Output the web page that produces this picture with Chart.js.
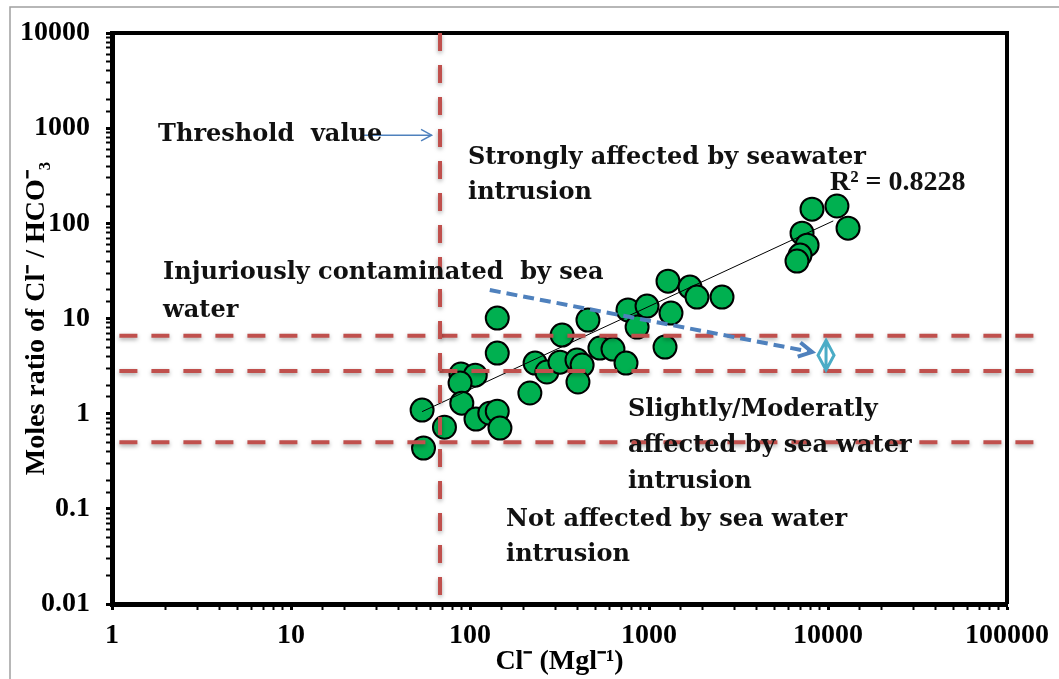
<!DOCTYPE html>
<html>
<head>
  <meta charset="utf-8">
  <title>Cl / HCO3 ratio vs Cl</title>
  <script src="https://cdn.jsdelivr.net/npm/chart.js"></script>
  <style>
    body { margin: 0; background: #fff; }
    #box { width: 1059px; height: 679px; }
  </style>
</head>
<body>
  <div id="box"><canvas id="chart"></canvas></div>

  <script>
    // samples: Cl- (mg/l) against Cl-/HCO3- molar ratio
    const clValues = [54, 55, 72, 89, 107, 88, 90, 108, 129, 142,
                      147, 142, 142, 216, 231, 269, 327, 318, 396, 423,
                      401, 456, 532, 629, 744, 763, 858, 975, 1229, 1277,
                      1327, 1694, 1854, 2558, 8140, 11220, 12940, 7160, 7640, 6980,
                      6710];
    const ratioValues = [1.09, 0.435, 0.72, 2.61, 2.54, 2.10, 1.29, 0.877, 1.01, 1.06,
                         0.706, 10.1, 4.33, 1.65, 3.40, 2.74, 6.70, 3.48, 3.66, 3.24,
                         2.15, 9.62, 4.89, 4.77, 3.40, 12.3, 8.13, 13.5, 5.01, 24.7,
                         11.4, 21.4, 16.8, 16.8, 141, 152, 89, 78.9, 59, 46.4,
                         40.1];

    // power trendline ends
    const trendCl = [54, 10700];
    const trendRatio = [1.05, 106];
    const r2Text = 'R² = 0.8228';

    // class boundaries
    const thresholdCl = 68;
    const classBounds = [6.6, 2.8, 0.5];
    const markerCl = 9750;
    const markerRange = [2.87, 5.9];

    const xTickLabels = ['1', '10', '100', '1000', '10000', '100000'];
    const yTickLabels = ['0.01', '0.1', '1', '10', '100', '1000', '10000'];

    function decadeLabel(v, labels, minExp) {
      const e = Math.log10(v);
      if (Math.abs(e - Math.round(e)) > 1e-6) return '';
      return labels[Math.round(e) - minExp] || '';
    }
    function isMajor(v) {
      const e = Math.log10(v);
      return Math.abs(e - Math.round(e)) < 1e-6;
    }

    function arrowHead(ctx, x1, y1, x2, y2, len) {
      const a = Math.atan2(y2 - y1, x2 - x1);
      ctx.beginPath();
      ctx.moveTo(x2 - len * Math.cos(a - 0.5), y2 - len * Math.sin(a - 0.5));
      ctx.lineTo(x2, y2);
      ctx.lineTo(x2 - len * Math.cos(a + 0.5), y2 - len * Math.sin(a + 0.5));
      ctx.stroke();
    }

    const overlay = {
      id: 'overlay',
      beforeDraw(chart) {
        const ctx = chart.ctx;
        ctx.save();
        ctx.strokeStyle = '#a0a0a0';
        ctx.lineWidth = 1.5;
        ctx.strokeRect(10, 7, 1100, 700);
        ctx.restore();
      },
      afterDatasetsDraw(chart) {
        const { ctx, chartArea: a, scales: { x, y } } = chart;
        ctx.save();

        // top and right frame
        ctx.strokeStyle = '#000';
        ctx.lineWidth = 4;
        ctx.beginPath();
        ctx.moveTo(a.left, a.top);
        ctx.lineTo(a.right, a.top);
        ctx.lineTo(a.right, a.bottom);
        ctx.stroke();

        // red dashed class lines
        ctx.strokeStyle = '#C0504D';
        ctx.lineWidth = 4;
        ctx.setLineDash([18, 14]);
        ctx.shadowColor = 'rgba(0,0,0,0.35)';
        ctx.shadowBlur = 4;
        ctx.shadowOffsetY = 2;
        classBounds.forEach(v => {
          const py = y.getPixelForValue(v);
          ctx.beginPath();
          ctx.moveTo(x.getPixelForValue(1.1), py);
          ctx.lineTo(x.getPixelForValue(153000), py);
          ctx.stroke();
        });
        const tx = x.getPixelForValue(thresholdCl);
        ctx.beginPath();
        ctx.moveTo(tx, y.getPixelForValue(10000));
        ctx.lineTo(tx, y.getPixelForValue(0.0105));
        ctx.stroke();
        ctx.shadowColor = 'transparent';

        // blue arrows
        ctx.strokeStyle = '#4F81BD';
        ctx.lineWidth = 1.5;
        ctx.setLineDash([]);
        let x1 = x.getPixelForValue(25.2), y1 = y.getPixelForValue(844);
        let x2 = x.getPixelForValue(61), y2 = y1;
        ctx.beginPath(); ctx.moveTo(x1, y1); ctx.lineTo(x2, y2); ctx.stroke();
        arrowHead(ctx, x1, y1, x2, y2, 12);

        ctx.lineWidth = 4;
        ctx.setLineDash([11, 6]);
        x1 = x.getPixelForValue(129); y1 = y.getPixelForValue(19.9);
        x2 = x.getPixelForValue(8140); y2 = y.getPixelForValue(4.44);
        ctx.beginPath(); ctx.moveTo(x1, y1); ctx.lineTo(x2, y2); ctx.stroke();
        ctx.setLineDash([]);
        ctx.lineJoin = 'miter';
        arrowHead(ctx, x1, y1, x2, y2, 15);

        // cyan range marker
        const mx = x.getPixelForValue(markerCl);
        const mTop = y.getPixelForValue(markerRange[1]);
        const mBot = y.getPixelForValue(markerRange[0]);
        const mMid = (mTop + mBot) / 2;
        ctx.strokeStyle = '#4BACC6';
        ctx.lineWidth = 3;
        ctx.beginPath();
        ctx.moveTo(mx, mTop); ctx.lineTo(mx + 8, mMid); ctx.lineTo(mx, mBot); ctx.lineTo(mx - 8, mMid); ctx.closePath();
        ctx.moveTo(mx, mTop); ctx.lineTo(mx, mBot);
        ctx.stroke();

        // annotation texts
        ctx.fillStyle = '#111';
        ctx.textAlign = 'left';
        ctx.textBaseline = 'middle';
        ctx.font = 'bold 24px "DejaVu Serif"';
        const put = (t, cx, cy) => ctx.fillText(t, x.getPixelForValue(cx), y.getPixelForValue(cy));
        put('Threshold  value', 1.81, 844);
        put('Strongly affected by seawater', 97.5, 484);
        put('intrusion', 97.5, 207);
        put('Injuriously contaminated  by sea', 1.93, 30);
        put('water', 1.93, 12.2);
        put('Slightly/Moderatly', 763, 1.09);
        put('affected by sea water', 763, 0.457);
        put('intrusion', 763, 0.191);
        put('Not affected by sea water', 159, 0.0762);
        put('intrusion', 159, 0.0327);
        ctx.font = 'bold 28px "Liberation Serif"';
        put(r2Text, 10260, 264);

        ctx.restore();
      }
    };

    const tickFont = { family: '"Liberation Serif", "Times New Roman", serif', size: 28, weight: 'bold' };

    new Chart(document.getElementById('chart'), {
      type: 'scatter',
      data: {
        datasets: [
          {
            type: 'line',
            data: trendCl.map((v, i) => ({ x: v, y: trendRatio[i] })),
            borderColor: '#000',
            borderWidth: 1,
            pointRadius: 0,
            order: 0
          },
          {
            data: clValues.map((v, i) => ({ x: v, y: ratioValues[i] })),
            backgroundColor: '#00B050',
            borderColor: '#000',
            borderWidth: 2,
            pointRadius: 11.5,
            pointHoverRadius: 11.5,
            order: 1
          }
        ]
      },
      options: {
        responsive: true,
        maintainAspectRatio: false,
        animation: false,
        layout: { padding: { left: 0, top: 33, right: 52, bottom: 0 } },
        plugins: { legend: { display: false }, tooltip: { enabled: false } },
        scales: {
          x: {
            type: 'logarithmic',
            min: 1, max: 100000,
            afterFit: s => { s.height = 75; },
            border: { color: '#000', width: 5 },
            grid: {
              drawOnChartArea: false, tickLength: 6, tickColor: '#000',
              tickWidth: c => (isMajor(c.tick.value) ? 3 : 2)
            },
            ticks: {
              color: '#000', font: tickFont, padding: 9, autoSkip: false, maxRotation: 0,
              callback: v => decadeLabel(v, xTickLabels, 0)
            },
            title: {
              display: true, text: 'Cl⁻ (Mgl⁻¹)', color: '#000',
              font: tickFont, padding: { top: 0, bottom: 0 }
            }
          },
          y: {
            type: 'logarithmic',
            min: 0.01, max: 10000,
            afterFit: s => { s.width = 112; },
            border: { color: '#000', width: 5 },
            grid: {
              drawOnChartArea: false, tickLength: 6, tickColor: '#000',
              tickWidth: c => (isMajor(c.tick.value) ? 3 : 2)
            },
            ticks: {
              color: '#000', font: tickFont, padding: 16, autoSkip: false,
              callback: v => decadeLabel(v, yTickLabels, -2)
            },
            title: {
              display: true, text: 'Moles ratio of Cl⁻ / HCO⁻₃', color: '#000',
              font: tickFont, padding: { top: 20, bottom: 0 }
            }
          }
        }
      },
      plugins: [overlay]
    });
  </script>
</body>
</html>
